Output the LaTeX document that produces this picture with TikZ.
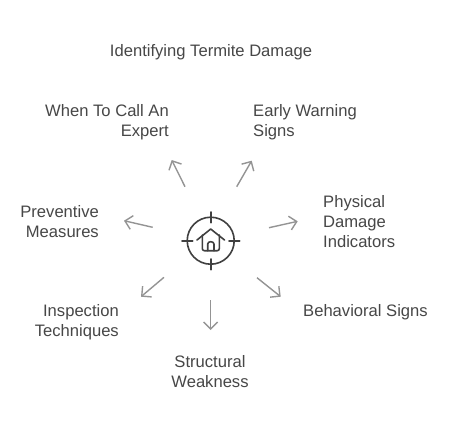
\documentclass[tikz,border=0pt]{standalone}
\usepackage{fontspec}
\setmainfont{Liberation Sans}
\usetikzlibrary{arrows.meta}
\tikzset{
  x=1pt,y=-1pt,
  lbl/.style={inner sep=0pt,text=black!72,font=\fontsize{16.6}{20}\selectfont},
  ray/.style={draw=black!42,line width=1.4pt,-{Straight Barb[length=7pt,width=14pt,line width=1.4pt]}},
  icon/.style={draw=black!75,line width=1.6pt,line join=round,line cap=round},
}
\begin{document}
\begin{tikzpicture}
\useasboundingbox (0,0) rectangle (452,432);
\fill[white] (0,0) rectangle (452,432);
\node[lbl] (title) at (211,52) {Identifying Termite Damage};
\node[lbl,align=right,anchor=east] (expert) at (169,122) {When To Call An\\Expert};
\node[lbl,align=left,anchor=west] (early) at (253,122) {Early Warning\\Signs};
\node[lbl,align=left,anchor=west] (phys) at (323,222) {Physical\\Damage\\Indicators};
\node[lbl,align=right,anchor=east] (prev) at (99,222) {Preventive\\Measures};
\node[lbl,anchor=west] (behav) at (303,312) {Behavioral Signs};
\node[lbl,align=right,anchor=east] (insp) at (119,322) {Inspection\\Techniques};
\node[lbl,align=center] (struct) at (210,372) {Structural\\Weakness};
% hub icon
\coordinate (hub) at (210.7,240.7);
\draw[icon] (hub) circle (23.5);
\draw[icon] (182,240.7) -- (192.7,240.7) (229,240.7) -- (239.7,240.7)
  (210.7,212) -- (210.7,222.7) (210.7,259) -- (210.7,269.7);
\draw[icon] (197,240) -- (210.7,229) -- (224.5,240);
\draw[icon] (202.3,235) -- (202.3,248.5) to[out=-90,in=180] (204.3,250.7) -- (217.3,250.7) to[out=0,in=-90] (219.3,248.5) -- (219.3,235);
\draw[icon] (207.7,250.7) -- (207.7,244) to[out=90,in=180] (210.7,241.7) to[out=0,in=90] (214,244) -- (214,250.7);
% rays
\coordinate (s1) at (185,186.7); \coordinate (e1) at (171.7,160);
\coordinate (s2) at (236.7,186.7); \coordinate (e2) at (251.7,160.7);
\coordinate (s3) at (269,227.7); \coordinate (e3) at (297.7,221.3);
\coordinate (s4) at (257,277.7); \coordinate (e4) at (280.7,296.7);
\coordinate (s5) at (210.7,300); \coordinate (e5) at (210.7,330);
\coordinate (s6) at (164,277.3); \coordinate (e6) at (141,296.7);
\coordinate (s7) at (152.7,227.3); \coordinate (e7) at (124,220.7);
\foreach \i in {1,...,7} {\draw[ray] (s\i) -- (e\i);}
\end{tikzpicture}
\end{document}
